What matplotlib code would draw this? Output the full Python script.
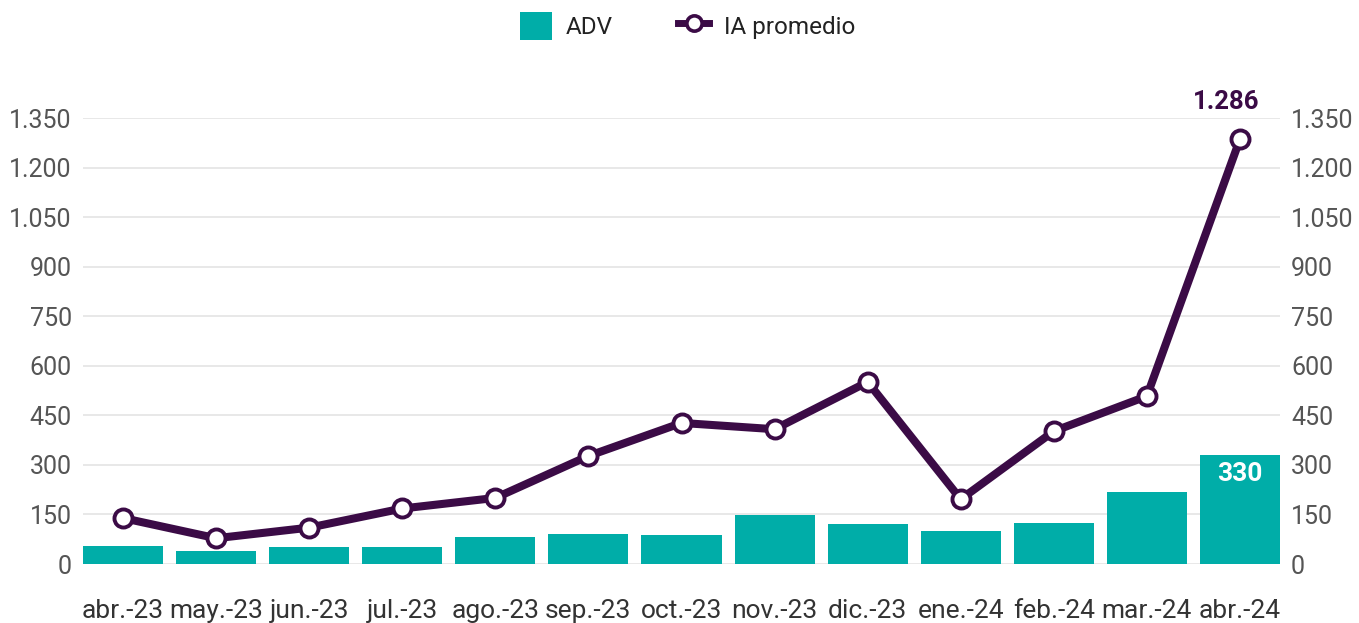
import matplotlib
matplotlib.use("Agg")
import matplotlib.pyplot as plt
from matplotlib.lines import Line2D
from matplotlib.patches import Patch

plt.rcParams['font.family'] = ['Roboto', 'DejaVu Sans']

categories = ["abr.-23", "may.-23", "jun.-23", "jul.-23", "ago.-23", "sep.-23", "oct.-23",
              "nov.-23", "dic.-23", "ene.-24", "feb.-24", "mar.-24", "abr.-24"]
adv = [53, 38, 51, 51, 82, 91, 87, 149, 122, 101, 123, 218, 330]
ia_promedio = [139, 78, 110, 168, 200, 327, 427, 408, 551, 196, 402, 508, 1286]
yticks = [0, 150, 300, 450, 600, 750, 900, 1050, 1200, 1350]
ytick_labels = ["0", "150", "300", "450", "600", "750", "900", "1.050", "1.200", "1.350"]

TEAL = "#00ADA8"
PURPLE = "#3B0B46"
GRID = "#E6E6E6"
TICK = "#555555"

fig = plt.figure(figsize=(13.59, 6.23), dpi=100)
ax = fig.add_axes([83/1359, 59/623, (1280-83)/1359, (564-118)/623])

x = list(range(len(categories)))
w = 0.86
ax.bar(x, adv, width=w, color=TEAL, zorder=2)
ax.plot(x, ia_promedio, color=PURPLE, lw=5.8, marker='o', ms=13,
        markerfacecolor='white', markeredgecolor=PURPLE, markeredgewidth=2.8,
        zorder=4, clip_on=False, solid_joinstyle='round')

ax.set_xlim(-w/2, len(categories) - 1 + w/2)
ax.set_ylim(0, 1350)
ax.set_yticks(yticks)
ax.set_yticklabels(ytick_labels)
ax.yaxis.grid(True, color=GRID, lw=1.3, zorder=0)
ax.set_axisbelow(True)
for s in ax.spines.values():
    s.set_visible(False)
ax.tick_params(axis='y', length=0, pad=8, labelsize=18, labelcolor=TICK,
               left=False, right=False, labelleft=True, labelright=True)
ax.set_xticks(x)
ax.set_xticklabels(categories)
ax.tick_params(axis='x', length=0, pad=25, labelsize=19, labelcolor="#333333")

# annotations
last = len(categories) - 1
ax.annotate(f"{ia_promedio[last]:,}".replace(",", "."), (x[last], ia_promedio[last]),
            xytext=(-10, 18), textcoords='offset points', ha='center', va='bottom',
            fontsize=18.5, fontweight='bold', color=PURPLE, annotation_clip=False)
ax.annotate(f"{adv[last]}", (x[last], adv[last]), xytext=(0, -5),
            textcoords='offset points', ha='center', va='top',
            fontsize=19, fontweight='bold', color='white', zorder=5)

handles = [Patch(facecolor=TEAL, edgecolor='none'),
           Line2D([0], [0], color=PURPLE, lw=5, marker='o', ms=11,
                  markerfacecolor='white', markeredgecolor=PURPLE, markeredgewidth=2.6)]
fig.legend(handles, ["ADV", "IA promedio"], loc='center', bbox_to_anchor=(0.506, 0.958),
           ncol=2, frameon=False, fontsize=17.5, handlelength=1.3, handleheight=1.4,
           columnspacing=2.65, handletextpad=0.6, labelcolor="#222222")

fig.savefig("out.png", dpi=100)
